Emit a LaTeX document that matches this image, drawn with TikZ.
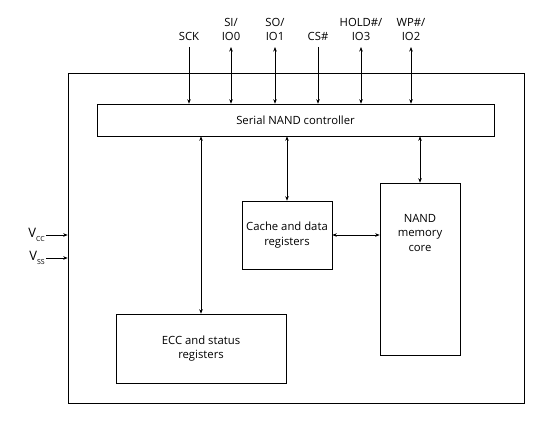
\documentclass[tikz,border=0pt]{standalone}
\usepackage{fontspec}
\setmainfont{Open Sans}
\usetikzlibrary{arrows.meta}
\begin{document}
\begin{tikzpicture}[x=1pt,y=-1pt,
  blk/.style={draw,line width=0.6pt,inner sep=0pt},
  lbl/.style={font=\fontsize{11.3}{14.5}\selectfont,align=center,text=black},
  sig/.style={line width=0.6pt,-{Stealth[length=4.5pt,width=3.5pt]}},
  bsig/.style={line width=0.6pt,{Stealth[length=4.5pt,width=3.5pt]}-{Stealth[length=4.5pt,width=3.5pt]}}]
\useasboundingbox (0,0) rectangle (537,425);
\node[blk,minimum width=456pt,minimum height=330pt] (outer) at (296,238) {};
\node[blk,lbl,minimum width=397pt,minimum height=32pt] (ctrl) at (295.5,120) {Serial NAND controller};
\node[blk,lbl,minimum width=90pt,minimum height=68pt] (cache) at (287,235) {Cache and data\\registers};
\node[blk,minimum width=80pt,minimum height=172pt] (core) at (420,269) {};
\node[lbl] (coretxt) at (420,233) {NAND\\memory\\core};
\node[blk,lbl,minimum width=170pt,minimum height=69pt] (ecc) at (201,348.5) {ECC and status\\registers};
% top pins
\node[lbl,anchor=base] (sck) at (189,41) {SCK};
\node[lbl,anchor=base] (si) at (231,41) {SI/\\IO0};
\node[lbl,anchor=base] (so) at (275,41) {SO/\\IO1};
\node[lbl,anchor=base] (cs) at (318,41) {CS\#};
\node[lbl,anchor=base] (hold) at (361,41) {HOLD\#/\\IO3};
\node[lbl,anchor=base] (wp) at (411,41) {WP\#/\\IO2};
\coordinate (psck) at (189,47);
\coordinate (psi) at (231,47);
\coordinate (pso) at (275,47);
\coordinate (pcs) at (318,47);
\coordinate (phold) at (361,47);
\coordinate (pwp) at (411,47);
\draw[sig] (psck) -- (psck |- ctrl.north);
\draw[bsig] (psi) -- (psi |- ctrl.north);
\draw[bsig] (pso) -- (pso |- ctrl.north);
\draw[sig] (pcs) -- (pcs |- ctrl.north);
\draw[bsig] (phold) -- (phold |- ctrl.north);
\draw[bsig] (pwp) -- (pwp |- ctrl.north);
% internal
\draw[bsig] (ecc.north |- ctrl.south) -- (ecc.north);
\draw[bsig] (cache.north |- ctrl.south) -- (cache.north);
\draw[bsig] (core.north |- ctrl.south) -- (core.north);
\draw[bsig] (cache.east) -- (cache.east -| core.west);
% power
\node[lbl,anchor=east,inner sep=1pt,font=\fontsize{13}{15}\selectfont] (vcc) at (46,235) {V\raisebox{-0.6ex}{\fontsize{7}{8}\selectfont CC}};
\node[lbl,anchor=east,inner sep=1pt,font=\fontsize{13}{15}\selectfont] (vss) at (46,258) {V\raisebox{-0.6ex}{\fontsize{7}{8}\selectfont SS}};
\draw[sig] (vcc.east) -- (vcc.east -| outer.west);
\draw[sig] (vss.east) -- (vss.east -| outer.west);
\end{tikzpicture}
\end{document}
